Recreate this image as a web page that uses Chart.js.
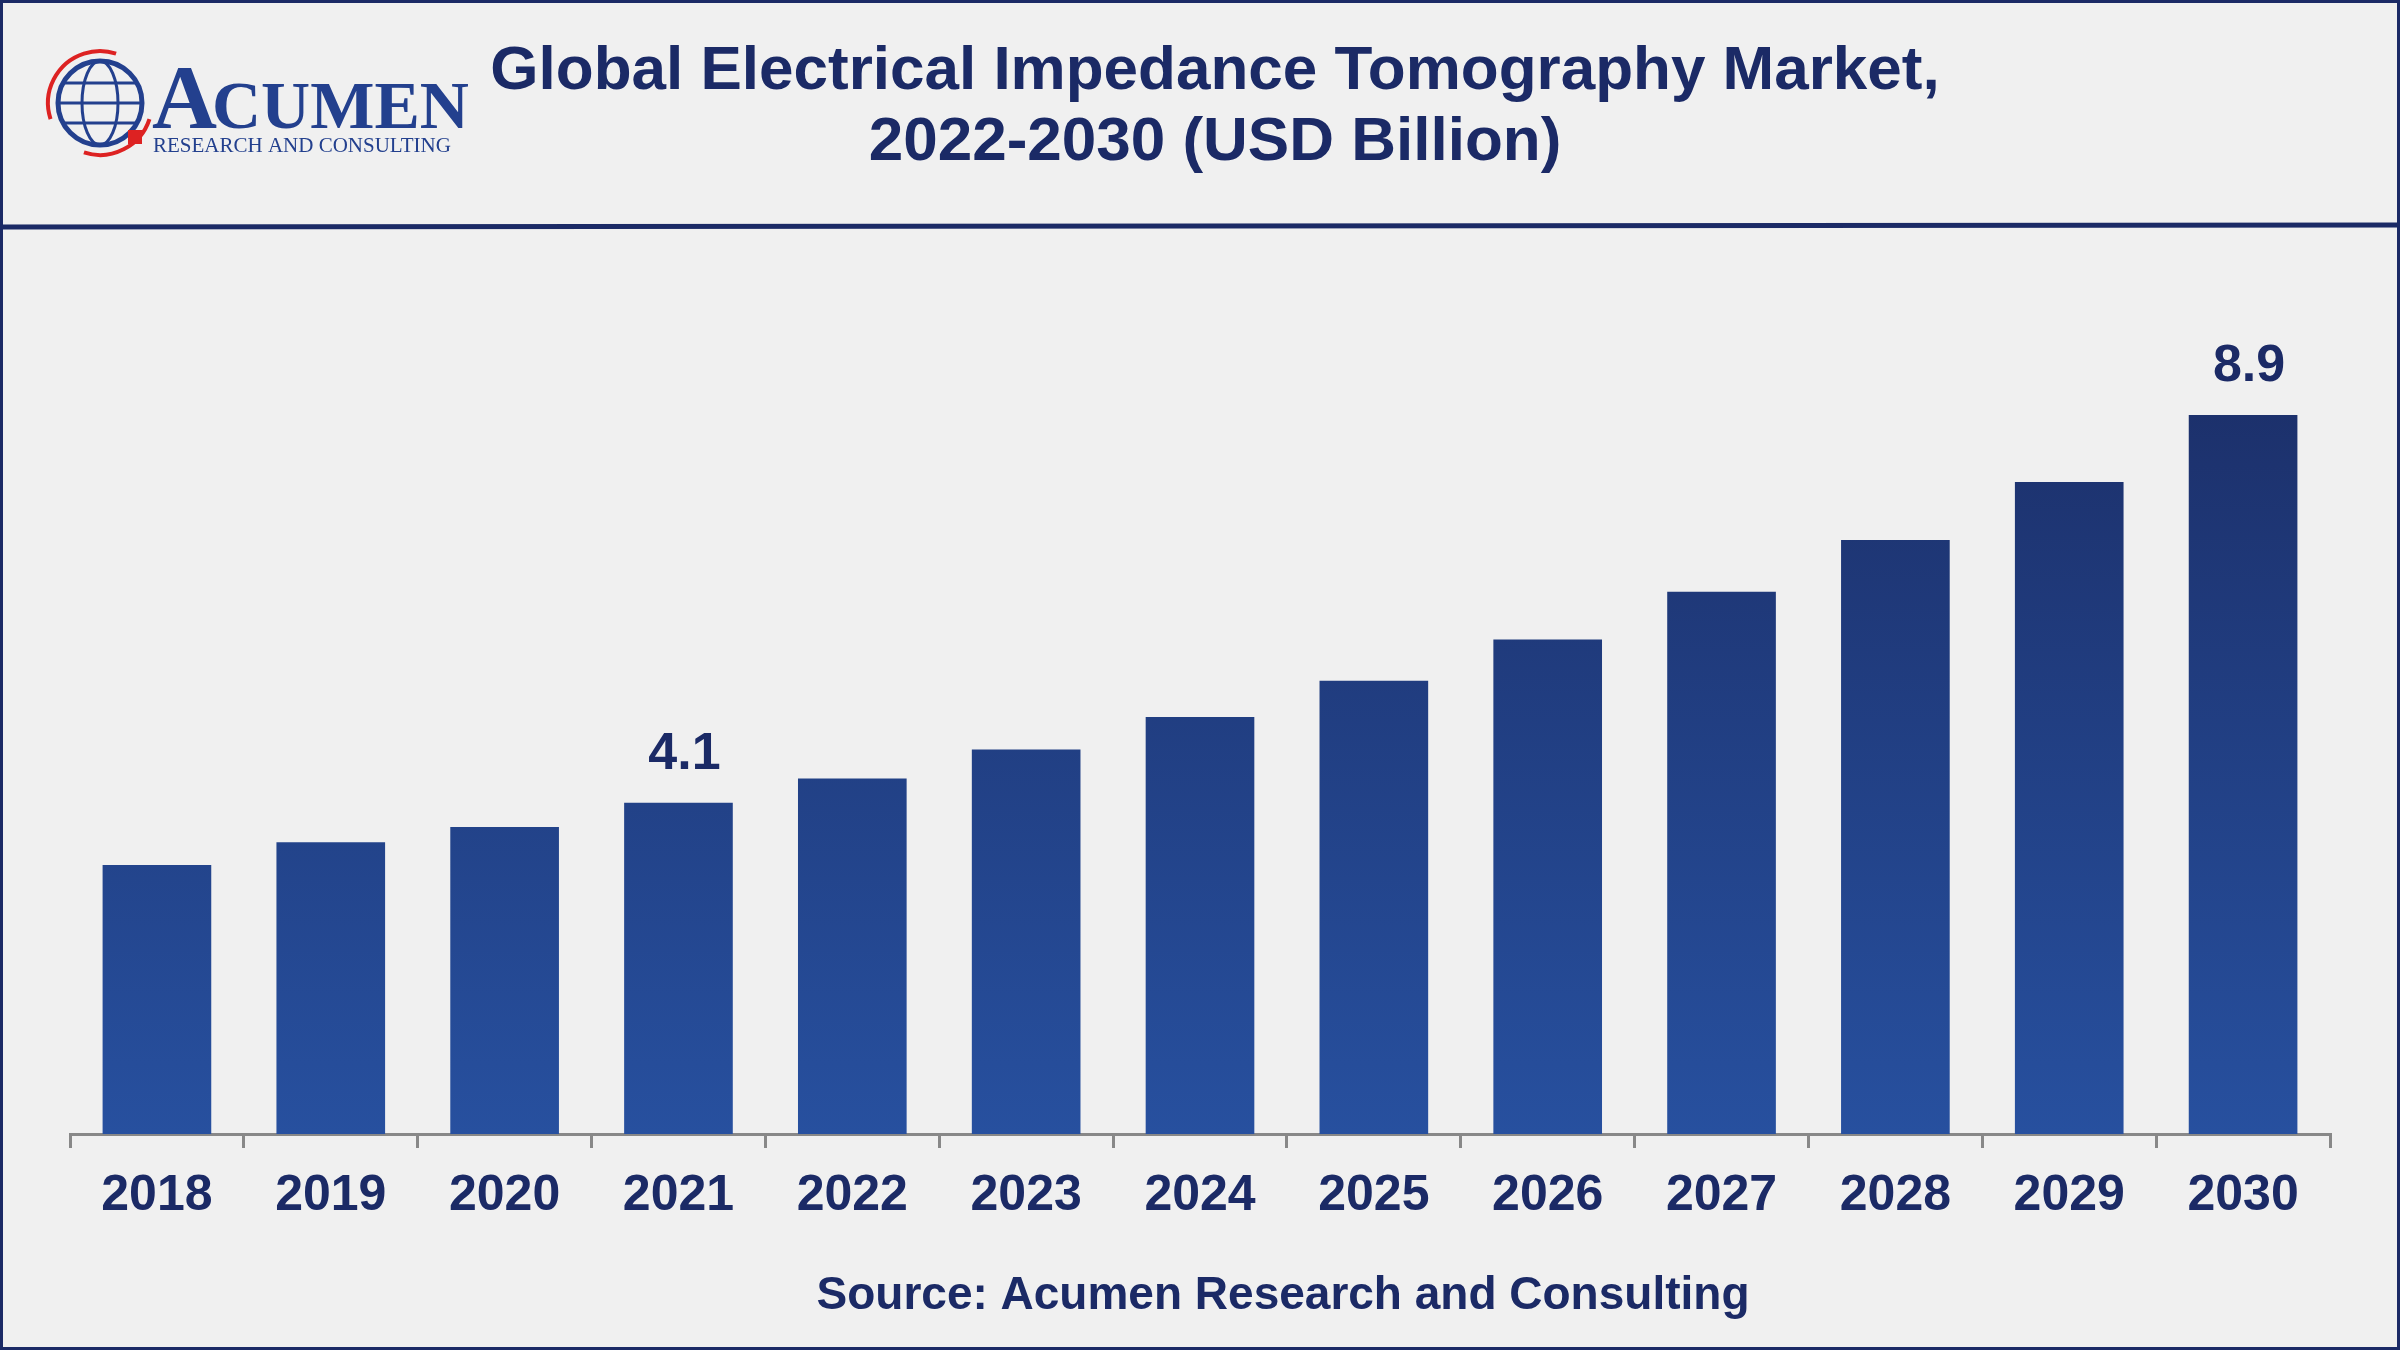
<!DOCTYPE html>
<html><head><meta charset="utf-8">
<script src="https://cdn.jsdelivr.net/npm/chart.js@4"></script>
<style>html,body{margin:0;padding:0;background:#f0f0f0;}#w{position:relative;width:2400px;height:1350px;}</style>
</head><body><div id="w"><canvas id="c" width="2400" height="1350"></canvas></div>
<script>
const years=["2018","2019","2020","2021","2022","2023","2024","2025","2026","2027","2028","2029","2030"];
const values=[3.33,3.61,3.80,4.1,4.40,4.76,5.16,5.61,6.12,6.71,7.35,8.07,8.9];
const labelShown=["2021","2030"];
const navy="#1b2a66";
const deco={id:"deco",
 beforeDraw(c){const x=c.ctx;x.save();x.fillStyle="#f0f0f0";x.fillRect(0,0,2400,1350);x.restore();},
 afterDraw(c){const x=c.ctx;x.save();
  x.strokeStyle=navy;x.lineWidth=3;x.strokeRect(1.5,1.5,2397,1347);
  x.lineWidth=5;x.beginPath();x.moveTo(0,227);x.lineTo(2400,225);x.stroke();
  x.fillStyle=navy;x.textAlign="center";x.textBaseline="middle";
  x.font="bold 62px 'Liberation Sans',Arial";
  x.fillText("Global Electrical Impedance Tomography Market,",1215,72);
  x.fillText("2022-2030 (USD Billion)",1215,143);
  x.font="bold 46px 'Liberation Sans',Arial";
  x.fillText("Source: Acumen Research and Consulting",1283,1296);
  // logo
  x.strokeStyle="#23408e";x.lineWidth=5;x.beginPath();x.arc(100,103,42,0,Math.PI*2);x.stroke();
  x.lineWidth=3;x.beginPath();x.ellipse(100,103,18,42,0,0,Math.PI*2);x.stroke();
  x.beginPath();x.moveTo(58,103);x.lineTo(142,103);x.moveTo(64,83);x.lineTo(136,83);x.moveTo(64,123);x.lineTo(136,123);x.stroke();
  x.strokeStyle="#d22";x.lineWidth=4;x.beginPath();x.arc(100,103,52,Math.PI*0.9,Math.PI*1.6);x.stroke();
  x.beginPath();x.arc(100,103,52,Math.PI*0.1,Math.PI*0.6);x.stroke();
  x.fillStyle="#d22";x.fillRect(128,130,14,14);
  x.fillStyle="#23408e";x.textAlign="left";x.textBaseline="alphabetic";
  x.font="bold 90px 'Liberation Serif',serif";x.fillText("A",152,128);
  x.font="bold 68px 'Liberation Serif',serif";x.fillText("CUMEN",212,128);
  x.font="21px 'Liberation Serif',serif";x.fillText("RESEARCH AND CONSULTING",153,152);
  // labels
  const m=c.getDatasetMeta(0);x.fillStyle=navy;x.textAlign="center";x.textBaseline="middle";x.font="bold 52px 'Liberation Sans',Arial";
  years.forEach((y,i)=>{if(labelShown.includes(y)){const e=m.data[i];x.fillText(values[i].toFixed(1),e.x+6,e.y-48);}});
  x.restore();}};
new Chart(document.getElementById("c"),{type:"bar",
 data:{labels:years,datasets:[{data:values,barPercentage:0.625,categoryPercentage:1,
  backgroundColor(ctx){const a=ctx.chart.chartArea;if(!a)return navy;const g=ctx.chart.ctx.createLinearGradient(0,a.top,0,a.bottom);g.addColorStop(0,"#1b2d66");g.addColorStop(1,"#27509f");return g;}}]},
 options:{responsive:false,animation:false,
  layout:{padding:{left:70,right:70,top:326,bottom:106}},
  plugins:{legend:{display:false},tooltip:{enabled:false}},
  scales:{y:{display:false,min:0,max:10},
   x:{offset:true,border:{color:"#888",width:3},
    grid:{offset:true,drawOnChartArea:false,color:"#888",lineWidth:3,tickLength:14},
    ticks:{color:navy,font:{size:50,weight:"bold",family:"'Liberation Sans',Arial"},padding:18}}}},
 plugins:[deco]});
</script></body></html>
